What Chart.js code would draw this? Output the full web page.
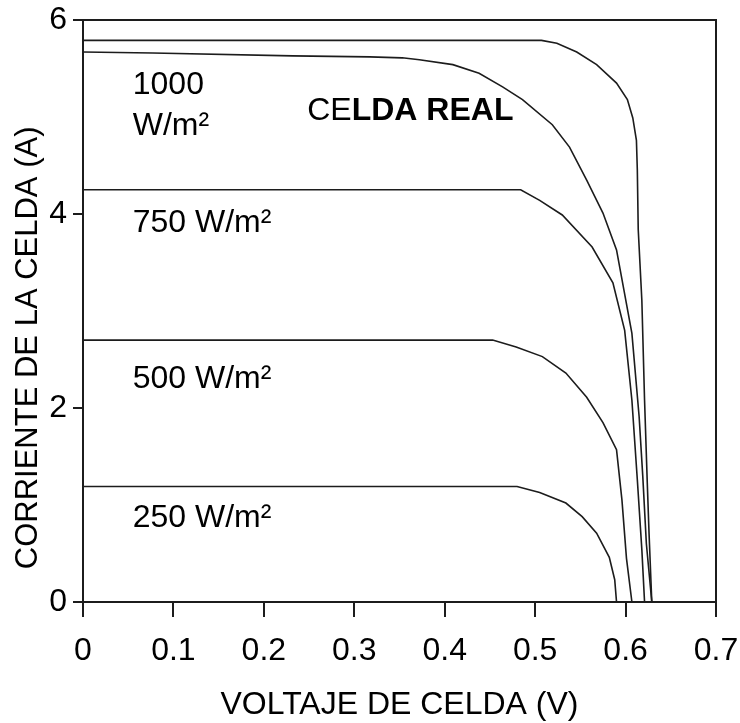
<!DOCTYPE html>
<html>
<head>
<meta charset="utf-8">
<title>Celda real - curvas I-V</title>
<script src="https://cdn.jsdelivr.net/npm/chart.js@4.4.1/dist/chart.umd.min.js"></script>
<style>
  html, body { margin: 0; padding: 0; background: #fff; }
</style>
</head>
<body>
<canvas id="iv-chart" width="740" height="723"></canvas>
<script>
const xTickLabels = ['0', '0.1', '0.2', '0.3', '0.4', '0.5', '0.6', '0.7']
const yTickLabels = ['0', '2', '4', '6']

// voltage (V) / current (A)
const voltsTop = [0, 0.507, 0.524, 0.546, 0.568, 0.590, 0.602, 0.608, 0.612, 0.613, 0.614, 0.618, 0.621, 0.624, 0.626, 0.629]
const ampsTop = [5.79, 5.79, 5.76, 5.67, 5.54, 5.35, 5.18, 4.99, 4.76, 4.45, 3.84, 3.11, 2.08, 1.23, 0.7, 0]

const volts1000 = [0, 0.077, 0.232, 0.317, 0.353, 0.372, 0.409, 0.438, 0.464, 0.486, 0.519, 0.538, 0.557, 0.575, 0.590, 0.607, 0.615, 0.619, 0.623, 0.629]
const amps1000 = [5.67, 5.66, 5.63, 5.62, 5.61, 5.59, 5.54, 5.45, 5.31, 5.18, 4.92, 4.69, 4.35, 4.01, 3.63, 2.77, 1.91, 1.3, 0.6, 0]

const volts750 = [0, 0.484, 0.505, 0.530, 0.563, 0.586, 0.599, 0.607, 0.613, 0.618, 0.621]
const amps750 = [4.25, 4.25, 4.14, 3.99, 3.66, 3.29, 2.80, 2.08, 1.26, 0.54, 0]

const volts500 = [0, 0.453, 0.479, 0.508, 0.534, 0.557, 0.575, 0.590, 0.596, 0.601, 0.607]
const amps500 = [2.70, 2.70, 2.63, 2.53, 2.36, 2.11, 1.85, 1.57, 1.05, 0.45, 0]

const volts250 = [0, 0.480, 0.505, 0.534, 0.552, 0.568, 0.582, 0.588, 0.590]
const amps250 = [1.19, 1.19, 1.13, 1.02, 0.88, 0.71, 0.46, 0.23, 0]

const curveNames = ['1000 W/m² (ideal)', '1000 W/m²', '750 W/m²', '500 W/m²', '250 W/m²']

const FONT = 'Liberation Sans, Arial, sans-serif'
const INK = '#1c1c1c'

initChart()

function initChart() {
  const ctx = document.getElementById('iv-chart')

  const curves = [
    toPoints(voltsTop, ampsTop),
    toPoints(volts1000, amps1000),
    toPoints(volts750, amps750),
    toPoints(volts500, amps500),
    toPoints(volts250, amps250),
  ]

  new Chart(ctx, {
    type: 'scatter',
    data: {
      datasets: curves.map((points, i) => ({
        label: curveNames[i],
        data: points,
        showLine: true,
        borderColor: INK,
        borderWidth: 1.6,
        pointRadius: 0,
        tension: 0,
        clip: false,
      })),
    },
    options: {
      responsive: false,
      animation: false,
      layout: { padding: { top: 20, right: 24, left: 0, bottom: 0 } },
      plugins: {
        legend: { display: false },
        tooltip: { enabled: false },
      },
      scales: {
        x: {
          type: 'linear',
          min: 0,
          max: 0.7,
          afterFit: (scale) => {
            scale.height = 121
            scale.paddingLeft = 0
            scale.paddingRight = 0
          },
          ticks: {
            stepSize: 0.1,
            color: '#000',
            padding: 15,
            font: { family: FONT, size: 32 },
            callback: (value, i) => xTickLabels[i],
          },
          grid: { drawOnChartArea: false, tickLength: 15, color: INK, lineWidth: 2 },
          border: { color: INK, width: 2 },
          title: {
            display: true,
            text: 'VOLTAJE DE CELDA (V)',
            color: '#000',
            padding: { top: 0, bottom: 2 },
            font: { family: FONT, size: 32, lineHeight: 1 },
          },
        },
        y: {
          type: 'linear',
          min: 0,
          max: 6,
          afterFit: (scale) => {
            scale.width = 83
            scale.paddingTop = 0
            scale.paddingBottom = 0
          },
          ticks: {
            stepSize: 2,
            color: '#000',
            padding: 6,
            font: { family: FONT, size: 32 },
            callback: (value, i) => yTickLabels[i],
          },
          grid: { drawOnChartArea: false, tickLength: 10, color: INK, lineWidth: 2 },
          border: { color: INK, width: 2 },
        },
      },
    },
    plugins: [frameAndLabels()],
  })
}

/**
 * Zips voltages and currents into scatter points
 * @param {number[]} volts
 * @param {number[]} amps
 */
function toPoints(volts, amps) {
  return volts.map((v, i) => ({ x: v, y: amps[i] }))
}

/**
 * Closes the plot box and writes the irradiance labels and the y axis title
 */
function frameAndLabels() {
  return {
    id: 'frameAndLabels',
    afterDraw(chart) {
      const { ctx, chartArea } = chart
      const x = chart.scales.x
      const y = chart.scales.y

      ctx.save()
      ctx.strokeStyle = INK
      ctx.lineWidth = 2
      ctx.beginPath()
      ctx.moveTo(chartArea.left, chartArea.top)
      ctx.lineTo(chartArea.right, chartArea.top)
      ctx.lineTo(chartArea.right, chartArea.bottom)
      ctx.stroke()

      ctx.fillStyle = '#000'
      ctx.textBaseline = 'middle'
      ctx.textAlign = 'left'
      ctx.font = `32px ${FONT}`
      const put = (text, v, a) => ctx.fillText(text, x.getPixelForValue(v), y.getPixelForValue(a))
      put('1000', 0.055, 5.33)
      put('W/m²', 0.055, 4.91)
      put('750 W/m²', 0.055, 3.91)
      put('500 W/m²', 0.055, 2.30)
      put('250 W/m²', 0.055, 0.86)

      // "CE" came out regular and the rest bold in the original
      const left = x.getPixelForValue(0.248)
      const mid = y.getPixelForValue(5.06)
      ctx.fillText('CE', left, mid)
      const ceWidth = ctx.measureText('CE').width
      ctx.font = `bold 32px ${FONT}`
      ctx.fillText('LDA REAL', left + ceWidth, mid)

      ctx.font = `31px ${FONT}`
      ctx.textAlign = 'center'
      ctx.translate(28, y.getPixelForValue(2.62))
      ctx.rotate(-Math.PI / 2)
      ctx.fillText('CORRIENTE DE LA CELDA (A)', 0, 0)
      ctx.restore()
    },
  }
}
</script>
</body>
</html>
